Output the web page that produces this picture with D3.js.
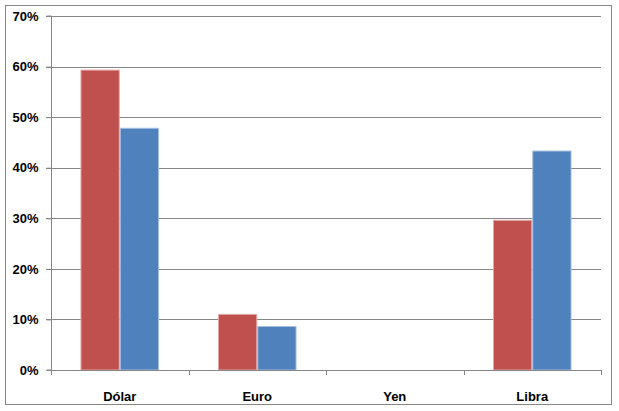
<!DOCTYPE html>
<html><head><meta charset="utf-8">
<script src="https://cdn.jsdelivr.net/npm/d3@7"></script>
<style>body{margin:0;background:#fff}svg{display:block}</style>
</head><body>
<script>
const categories = ["Dólar", "Euro", "Yen", "Libra"];
const seriesRed = [0.593, 0.110, 0, 0.296];
const seriesBlue = [0.478, 0.086, 0, 0.433];
const yTicks = [0, 0.1, 0.2, 0.3, 0.4, 0.5, 0.6, 0.7];
const seriesColors = ["#C0504D", "#4F81BD"];
const seriesStroke = ["#E3A8A6", "#A7C0DE"];

(function () {
const W = 619, H = 411;
const svg = d3.select("body").append("svg").attr("width", W).attr("height", H);
svg.append("rect").attr("x", 5.5).attr("y", 5.5).attr("width", 606).attr("height", 399)
  .attr("fill", "#fff").attr("stroke", "#868686").attr("stroke-width", 1);

const pl = 51, pr = 601, pt = 16, pb = 370;
const y = d3.scaleLinear().domain([0, 0.7]).range([pb, pt]);
const x = d3.scaleBand().domain(categories).range([pl, pr]).paddingInner(0).paddingOuter(0);
const bw = x.bandwidth() / 3.5;
const gap = bw * 0.75;

// gridlines
svg.append("g").selectAll("line").data(yTicks.filter(d => d > 0)).join("line")
  .attr("x1", pl - 5).attr("x2", pr)
  .attr("y1", d => Math.round(y(d)) + 0.5).attr("y2", d => Math.round(y(d)) + 0.5)
  .attr("stroke", "#868686").attr("stroke-width", 1);

// bars
const series = [seriesRed, seriesBlue];
series.forEach((vals, si) => {
  svg.append("g").selectAll("rect").data(categories).join("rect")
    .attr("x", c => x(c) + gap + si * bw + 0.5)
    .attr("y", (c, i) => y(vals[i]))
    .attr("width", bw - 1)
    .attr("height", (c, i) => pb - y(vals[i]))
    .attr("fill", seriesColors[si])
    .attr("stroke", seriesStroke[si]).attr("stroke-width", 1)
    .attr("display", (c, i) => vals[i] > 0 ? null : "none");
});

// axes
const yAxis = d3.axisLeft(y).tickValues(yTicks).tickFormat(d3.format(".0%")).tickSize(5).tickPadding(8);
const gy = svg.append("g").attr("transform", `translate(${pl + 0.5},0)`).call(yAxis);
const xAxis = d3.axisBottom(x).tickSize(0).tickPadding(21);
const gx = svg.append("g").attr("transform", `translate(0,${pb + 0.5})`).call(xAxis);
// category boundary ticks
svg.append("g").selectAll("line").data(d3.range(categories.length + 1)).join("line")
  .attr("x1", i => Math.round(pl + i * x.bandwidth()) + 0.5)
  .attr("x2", i => Math.round(pl + i * x.bandwidth()) + 0.5)
  .attr("y1", pb).attr("y2", pb + 5)
  .attr("stroke", "#868686");

[gy, gx].forEach(g => {
  g.selectAll(".domain").attr("stroke", "#868686");
  g.selectAll(".tick line").attr("stroke", "#868686");
  g.selectAll("text").attr("font-family", "'Liberation Sans', Arial, sans-serif").attr("font-weight", "bold")
    .attr("font-size", 13).attr("fill", "#000");
});
gy.select(".domain").attr("d", `M-5,${pt}H0V${pb}H-5`);
gx.select(".domain").attr("d", `M${pl},0H${pr}`);
})();
</script>
</body></html>
